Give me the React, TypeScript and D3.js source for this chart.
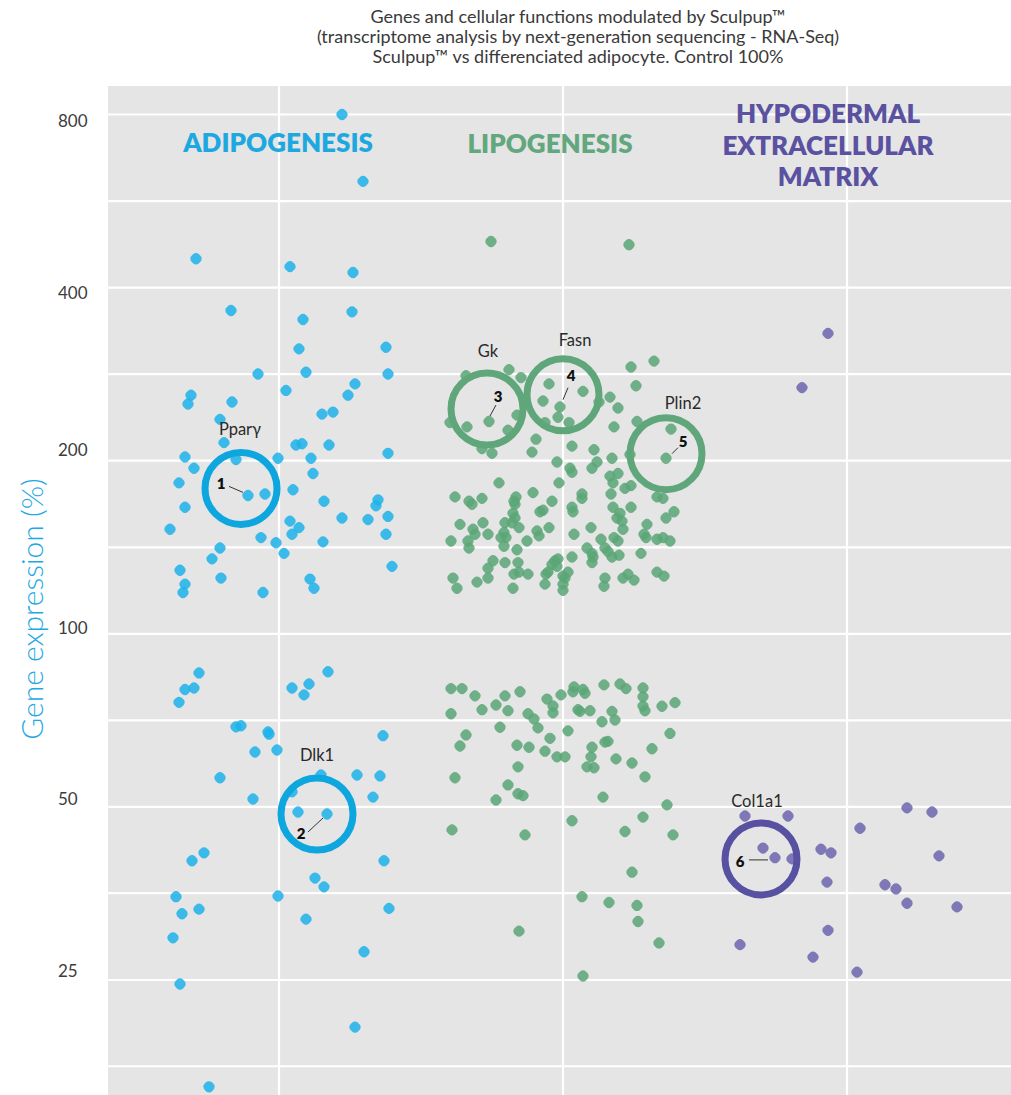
import React from "react";
import * as d3 from "d3";

// ---------- DATA ----------
const titleLines = [
  "Genes and cellular functions modulated by Sculpup™",
  "(transcriptome analysis by next-generation sequencing - RNA-Seq)",
  "Sculpup™ vs differenciated adipocyte. Control 100%",
];
const yAxisTitle = "Gene expression (%)";
const yTickLabels = [800, 400, 200, 100, 50, 25];
const yGridValues = [800, 565.7, 400, 282.8, 200, 141.4, 100, 70.7, 50, 35.4, 25, 17.7];
const groupNames = ["ADIPOGENESIS", "LIPOGENESIS", "HYPODERMAL\nEXTRACELLULAR\nMATRIX"];
// horizontal jitter position (arbitrary units) of each group centre
const groupCenters = [279, 563, 847];

// [jitter position, gene expression %]
const adipogenesis: [number, number][] = [
  [342,800],[363,612],[196,449],[290,435],[353,425],[231,365],[352,363],[303,352],[299,313],[386,315],
  [258,283],[306,285],[388,283],[286,265],[355,272],[348,260],[191,260],[188,251],[232,253],[322,241],
  [333,243],[220,236],[224,215],[296,213],[302,214],[329,213],[388,206],[185,203],[236,201],[278,202],
  [311,202],[194,194],[313,190],[179,183],[248,174],[265,175],[293,178],[185,166],[324,170],[378,171],
  [376,167],[388,160],[342,159],[368,158],[290,157],[299,153],[170,152],[292,149],[386,149],[261,147],
  [276,144],[323,144.5],[220,141],[284,138],[212,135],[180,129],[392,131],[221,125],[310,124.5],[185,122],
  [314,120],[183,118],[263,118],
  [199,85.5],[185,80],[194,80.5],[179,76],[292,80.5],[309,81.8],[304,78.3],[328,85.9],[236,68.9],[241,69.2],
  [268,67.5],[269,66.9],[255,62.3],[277,62.8],[383,66.5],[220,56.2],[321,56.8],[357,56.8],[380,56.6],[292,53.1],
  [373,52],[253,51.6],[298,49],[327,48.6],[204,41.6],[192,40.3],[384,40.3],[315,37.6],[324,36.3],[176,34.9],
  [278,35],[182,32.6],[199,33.2],[389,33.3],[306,31.9],[173,29.6],[364,28],[180,24.6],[355,20.7],[209,16.3],
];

const lipogenesis: [number, number][] = [
  [491,481],[629,475],[509,288],[521,279],[466,281],[631,291],[654,298],[549,272],[583,264],[636,270],
  [543,254],[560,248],[558,238],[610,258],[618,247],[599,253],[517,240],[489,234],[467,229],[450,233],
  [508,226],[545,233],[569,233],[614,229],[637,234],[671,227],[666,202],[536,218],[532,207],[572,212],
  [594,209],[612,202],[597,199],[630,205],[482,210],[492,206],[557,199],[570,194],[592,194],
  [572,191],[499,183],[559,183],[610,188],[618,190],[613,183],[625,179],[631,181],[455,173],[469,170],
  [472,168],[482,172],[516,173],[514,170],[515,168],[533,176],[552,170],[582,175],[582,172],[611,175],
  [657,173],[663,172],[572,166],[573,163],[540,163],[543,164],[613,166],[620,162],[631,166],[674,163],
  [666,159],[513,162],[515,159],[512,156],[460,155],[483,156],[505,156],[519,153],[617,159],[622,157],
  [623,152],[647,155],[473,152],[475,149],[488,149],[537,151],[539,148],[549,153],[591,153],[574,149],
  [504,150],[506,147],[501,147],[451,145],[468,145],[469,141],[504,142],[527,145],[601,146],[614,147],
  [618,145],[644,149],[646,147],[657,146],[670,145],[663,147],[517,140],[587,141],[592,138],[593,136],
  [592,133],[605,141],[608,139],[612,136],[619,137],[641,138],[493,134],[505,133],[518,133],[555,134],
  [558,135],[552,132],[557,131],[572,136],[488,130],[519,128],[514,127],[528,127],[548,128],[546,127],
  [568,128],[563,126],[565,125],[563,122],[563,119],[453,125],[457,120],[477,123],[488,125],[513,120],
  [545,122],[605,125],[604,121],[623,125],[628,127],[634,124],[657,128],[664,126],
  [451,80.3],[462,80.3],[475,78],[505,78],[520,79.3],[451,72.6],[482,73.8],[496,75.2],[508,73.5],[528,72.6],
  [534,71.1],[538,68.6],[547,77],[553,74.9],[553,72.9],[561,78.3],[574,80.8],[573,79.3],[583,80],[585,78.8],
  [578,73.8],[580,73.3],[590,73.5],[604,81.5],[620,81.8],[626,80.3],[643,80.5],[643,77.7],[643,74.9],[645,73.5],
  [612,73.3],[615,70.8],[602,70.3],[662,74.8],[675,75.9],[500,68.8],[466,66.7],[460,63.8],[568,67.8],[550,65.8],
  [517,64],[529,63.5],[545,62.5],[557,61.1],[565,61.1],[592,63.5],[591,61.1],[605,64.8],[608,65],[587,58.7],
  [594,58.5],[616,60.6],[632,59.6],[652,63.1],[670,67.1],[518,58.7],[455,56.2],[645,56.4],[508,54.6],[518,52.7],
  [523,52.3],[496,51.4],[603,52],[667,50.4],[572,47.3],[643,48],[452,45.6],[525,44.7],[625,45.3],[673,44.7],
  [632,38.5],[582,34.9],[609,34.1],[637,33.7],[638,31.6],[519,30.4],[659,29],[583,25.4],
];

const extracellularMatrix: [number, number][] = [
  [828,333],[802,268],[745,48.2],[788,48.2],[907,49.8],[932,49],[860,45.9],[763,42.4],[775,40.8],[792,40.6],
  [821,42.2],[831,41.6],[939,41.1],[827,37],[885,36.6],[896,36],[907,34],[957,33.5],[828,30.5],[740,28.8],
  [813,27.4],[857,25.8],
];

// highlighted genes: name, number, group, circle centre [jitter, %]
const highlightGenes = ["Pparγ", "Dlk1", "Gk", "Fasn", "Plin2", "Col1a1"];
const highlightNumbers = ["1", "2", "3", "4", "5", "6"];
const highlightGroups = [0, 0, 1, 1, 1, 2];
const highlightCenters: [number, number][] = [
  [241, 179], [317, 48.6], [487, 246], [563, 260.5], [666, 205.7], [761, 40.6],
];

// ---------- LAYOUT / STYLE ----------
const W = 1011;
const H = 1095;
const plot = { left: 108, right: 1011, top: 86, bottom: 1095 };
const FONT = "Lato, 'Open Sans', 'DejaVu Sans', sans-serif";
const pointColors = ["#1db3ea", "#5aa677", "#6d65ae"];
const ringColors = ["#0ea6de", "#5fa67a", "#5850a0"];
const groupLabelColors = ["#1ea8e0", "#62a77d", "#5a52a1"];
const groupLabelPos = [
  { x: 278, y: 143 },
  { x: 550, y: 144 },
  { x: 828, y: 114 },
];
// per-annotation label placement relative to the ring centre (px)
const annLayout = [
  { name: [-1, -59], num: [-20, -5], line: [[-12, -2], [2, 4]] },
  { name: [0, -59], num: [-16, 20], line: [[-9, 18], [6, 4]] },
  { name: [1, -58], num: [11, -12], line: [[9, -4], [3, 7]] },
  { name: [12, -55], num: [8, -19], line: [[5, -7], [0, 5]] },
  { name: [17, -51], num: [17, -12], line: [[12, -6], [6, 0]] },
  { name: [-4, -58], num: [-21, 3], line: [[-12, 1], [7, 1]] },
];
const tickNudge: Record<number, number> = { 800: 6, 400: 5, 200: -11, 100: -6, 50: -8, 25: -9 };

export default function App() {
  const y = d3.scaleLog().base(2).domain([25, 800]).range([980, 114.5]);
  const x = d3.scaleLinear().domain([108, 1011]).range([plot.left, plot.right]);

  const series = [adipogenesis, lipogenesis, extracellularMatrix];
  const side = 10.5;

  return (
    <svg
      width={W}
      height={H}
      style={{ position: "absolute", left: 0, top: 0, background: "#fff" }}
      fontFamily={FONT}
    >
      <defs>
        <clipPath id="plotclip">
          <rect x={plot.left} y={plot.top} width={plot.right - plot.left} height={plot.bottom - plot.top} />
        </clipPath>
      </defs>

      {/* title */}
      {titleLines.map((t, i) => (
        <text key={i} x={578} y={23 + i * 20} textAnchor="middle" fontSize={18} fill="#3a3a3a">
          {t}
        </text>
      ))}

      {/* plot background */}
      <rect x={plot.left} y={plot.top} width={plot.right - plot.left} height={plot.bottom - plot.top} fill="#e5e5e5" />

      <g clipPath="url(#plotclip)">
        {yGridValues.map((v) => (
          <line key={v} x1={plot.left} x2={plot.right} y1={y(v)} y2={y(v)} stroke="#ffffff" strokeWidth={2.2} />
        ))}
        {groupCenters.map((c) => (
          <line key={c} x1={x(c)} x2={x(c)} y1={plot.top} y2={plot.bottom} stroke="#ffffff" strokeWidth={2.2} />
        ))}

        {/* points */}
        {series.map((s, si) => (
          <g key={si} fill={pointColors[si]} fillOpacity={0.85}>
            {s.map(([px, v], i) => {
              const cx = x(px);
              const cy = y(v);
              return (
                <rect
                  key={i}
                  x={cx - side / 2}
                  y={cy - side / 2}
                  width={side}
                  height={side}
                  rx={4.2}
                  transform={`rotate(45 ${cx} ${cy})`}
                />
              );
            })}
          </g>
        ))}

        {/* highlight rings */}
        {highlightCenters.map(([px, v], i) => (
          <circle
            key={i}
            cx={x(px)}
            cy={y(v)}
            r={36}
            fill="none"
            stroke={ringColors[highlightGroups[i]]}
            strokeWidth={7}
          />
        ))}

        {highlightCenters.map(([px, v], i) => {
          const cx = x(px);
          const cy = y(v);
          const L = annLayout[i];
          return (
            <g key={"a" + i}>
              <line
                x1={cx + L.line[0][0]}
                y1={cy + L.line[0][1]}
                x2={cx + L.line[1][0]}
                y2={cy + L.line[1][1]}
                stroke="#333"
                strokeWidth={1}
              />
              <text
                x={cx + L.num[0]}
                y={cy + L.num[1]}
                dy="0.36em"
                textAnchor="middle"
                fontSize={15}
                fontWeight={800}
                fill="#111"
              >
                {highlightNumbers[i]}
              </text>
              <text
                x={cx + L.name[0]}
                y={cy + L.name[1]}
                dy="0.36em"
                textAnchor="middle"
                fontSize={16.5}
                fill="#2a2a2a"
              >
                {highlightGenes[i]}
              </text>
            </g>
          );
        })}

        {/* group labels */}
        {groupNames.map((g, gi) =>
          g.split("\n").map((line, li) => (
            <text
              key={gi + "-" + li}
              x={groupLabelPos[gi].x}
              y={groupLabelPos[gi].y + li * 31.5}
              dy="0.36em"
              textAnchor="middle"
              fontSize={26}
              fontWeight={800}
              fill={groupLabelColors[gi]}
            >
              {line}
            </text>
          ))
        )}
      </g>

      {/* y tick labels */}
      {yTickLabels.map((v) => (
        <text key={v} x={58} y={y(v) + tickNudge[v]} dy="0.36em" fontSize={17} fill="#3d3d3d">
          {v}
        </text>
      ))}

      {/* y axis title */}
      <text
        transform={`translate(43, 609) rotate(-90)`}
        textAnchor="middle"
        fontSize={30}
        fontWeight={300}
        fill="#1ea8e6"
      >
        {yAxisTitle}
      </text>
    </svg>
  );
}
